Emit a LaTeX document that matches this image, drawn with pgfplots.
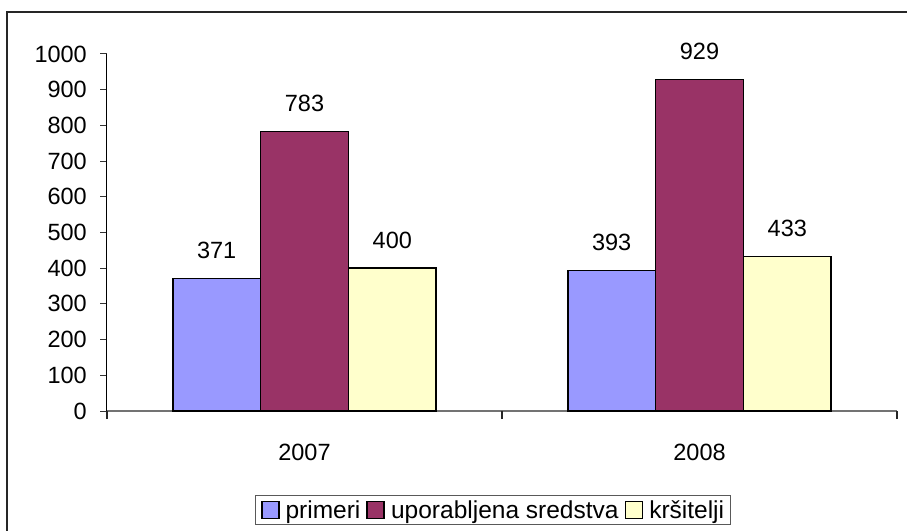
\documentclass[border=0pt]{standalone}
\usepackage{fontspec}
\setmainfont{Liberation Sans}
\usepackage{pgfplots}
\pgfplotsset{compat=1.18}
\definecolor{c1}{HTML}{9999FF}
\definecolor{c2}{HTML}{993366}
\definecolor{c3}{HTML}{FFFFCC}
\newcommand{\cf}{\fontsize{23.5}{28}\selectfont}
\newcommand{\lf}{\fontsize{24.5}{28}\selectfont}
\begin{document}
\begin{tikzpicture}[x=1pt,y=1pt]
\useasboundingbox (0,0) rectangle (907,530);
\draw[line width=1.4pt, black!85] (7,-5) -- (7,518) -- (912,518);
\begin{axis}[
  at={(107pt,119pt)}, anchor=south west,
  scale only axis, width=790pt, height=357pt,
  xmin=-0.5, xmax=1.5, ymin=0, ymax=1000,
  axis x line=bottom, axis y line=left,
  axis line style={-},
  x axis line style={black!55, line width=1.3pt},
  y axis line style={black, line width=1pt},
  ytick={0,100,...,1000},
  xtick={0,1}, xticklabels={2007,2008},
  tick align=outside,
  major tick length=7pt,
  every tick/.style={black!80, line width=1pt},
  x tick style={draw=none},
  extra x ticks={-0.5,0.5,1.5}, extra x tick labels={},
  extra x tick style={major tick length=8pt, x tick style={draw=black!85, line width=1.2pt}},
  /pgf/number format/assume math mode=true,
  /pgf/number format/1000 sep={},
  ticklabel style={font=\cf},
  yticklabel style={inner sep=0pt, xshift=-13pt},
  xticklabel style={inner sep=0pt, yshift=-26pt},
  ybar=0pt, bar width=87.8pt,
  nodes near coords,
  every node near coord/.append style={font=\cf, inner sep=0pt, yshift=19pt, black},
  legend columns=3,
  legend style={at={(axis description cs:0.4886,-0.2773)}, anchor=center,
    draw=black!65, line width=1pt, inner xsep=5pt, inner ysep=3pt,
    nodes={font=\lf, inner xsep=1pt},
    /tikz/every even column/.append style={column sep=5pt}},
  legend image code/.code={\draw[#1, line width=1.8pt] (0pt,-8.5pt) rectangle (17pt,8.5pt);
    \path (22pt,0pt);},
]
\addplot[fill=c1, draw=black, line width=1.6pt] coordinates {(0,371) (1,393)};
\addplot[fill=c2, draw=black, line width=1.6pt] coordinates {(0,783) (1,929)};
\addplot[fill=c3, draw=black, line width=1.6pt] coordinates {(0,400) (1,433)};
\legend{primeri,uporabljena sredstva,kršitelji}
\end{axis}
\end{tikzpicture}
\end{document}
